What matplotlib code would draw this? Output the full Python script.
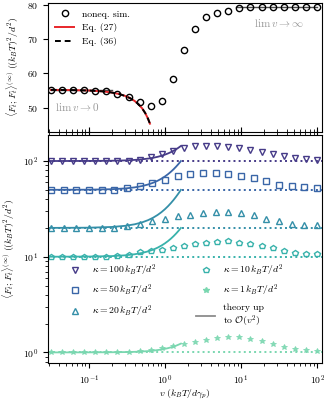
import numpy as np
import matplotlib
matplotlib.use("Agg")
import matplotlib.pyplot as plt
from matplotlib.lines import Line2D

plt.rcParams['font.family'] = 'serif'
plt.rcParams['font.serif'] = ['cmr10', 'DejaVu Serif']
plt.rcParams['mathtext.fontset'] = 'cm'
plt.rcParams['axes.formatter.use_mathtext'] = True
plt.rcParams['font.size'] = 7

# ------------------------------------------
# DATA
# ------------------------------------------
# driving velocities (two sampling grids used in the simulations)
v25 = [0.0316, 0.0442, 0.0619, 0.0866, 0.121, 0.169, 0.237, 0.332, 0.464,
       0.649, 0.909, 1.27, 1.78, 2.49, 3.48, 4.87, 6.81, 9.53, 13.3, 18.7,
       26.1, 36.5, 51.1, 71.5, 100.0]
v22 = [0.0316, 0.0464, 0.0681, 0.1, 0.147, 0.215, 0.316, 0.464, 0.681, 1.0,
       1.468, 2.154, 3.162, 4.64, 6.81, 10.0, 14.68, 21.54, 31.6, 46.4,
       68.1, 100.0]

# top panel: nonequilibrium simulation
sim_top = [55.2, 55.2, 55.2, 55.1, 55.0, 54.75, 54.0, 53.0, 51.65, 50.6,
           52.0, 58.3, 66.7, 72.8, 76.4, 77.7, 78.3, 79.1, 79.3, 79.3,
           79.3, 79.3, 79.3, 79.3, 79.3]
v_eq = [0.0316, 0.06, 0.1, 0.15, 0.2, 0.25, 0.3, 0.35, 0.4, 0.45, 0.5,
        0.55, 0.6, 0.635]
eq27 = [55.18, 55.13, 55.0, 54.76, 54.41, 53.97, 53.41, 52.74, 51.94,
        50.98, 49.83, 48.44, 46.74, 45.33]
eq36 = [55.18, 55.13, 55.0, 54.76, 54.41, 53.97, 53.41, 52.74, 51.94,
        50.98, 49.83, 48.44, 46.74, 45.33]
lim0_v, lim0 = [0.0316, 0.2], 55.2
liminf_v, liminf = [8.5, 100.0], 79.3

# bottom panel: per-stiffness simulations
kappas = [100, 50, 20, 10, 1]
sim_k100 = [100, 100, 100, 100, 100, 100, 100, 100.7, 103, 110, 118, 127,
            137, 142.6, 144.7, 144, 141, 137, 130, 124, 118, 113, 107.5,
            104, 102.4]
sim_k50 = [50, 50, 50, 50, 50, 50, 52, 54.5, 58.9, 64, 70, 73.5, 74.6, 74.3,
           72.3, 69.4, 66, 61.5, 56.8, 54.5, 53.2, 52.4]
sim_k20 = [20, 20, 20, 20, 20, 20, 20.7, 22.0, 23.4, 25.0, 26.4, 27.6, 28.9,
           29.1, 29.1, 28.6, 27.0, 25.0, 23.4, 22.1, 21.2, 21.2]
sim_k10 = [10, 10, 10, 10, 10, 10, 10.24, 10.5, 11.1, 11.5, 11.8, 12.3, 13.0,
           13.6, 13.9, 14.4, 14.5, 13.9, 13.7, 12.9, 12.2, 11.4, 10.9, 10.75,
           10.75]
sim_k1 = [1.0, 1.0, 1.0, 1.0, 1.0, 1.0, 1.0, 1.017, 1.032, 1.067, 1.12,
          1.175, 1.233, 1.288, 1.345, 1.408, 1.446, 1.446, 1.391, 1.304,
          1.213, 1.147, 1.093, 1.049, 1.037]

# theory up to O(v^2)
v_th = [0.0316, 0.1, 0.2, 0.3, 0.4, 0.5, 0.6, 0.7, 0.8, 0.9, 1.0, 1.1, 1.2,
        1.3, 1.4, 1.5, 1.62]
th_k100 = [100.02, 100.17, 100.66, 101.5, 102.7, 104.2, 106.0, 108.1, 110.6,
           113.4, 116.6, 120.1, 123.9, 128.1, 132.5, 137.4, 143.6]
th_k50 = [50.02, 50.19, 50.76, 51.71, 53.04, 54.75, 56.84, 59.31, 62.16,
          65.39, 69.0, 72.99, 77.36, 82.11, 87.24, 92.75, 99.86]
th_k20 = [20.01, 20.11, 20.46, 21.03, 21.82, 22.85, 24.10, 25.59, 27.30,
          29.23, 31.4, 33.79, 36.42, 39.27, 42.34, 45.65, 49.92]
th_k10 = [10.0, 10.04, 10.15, 10.34, 10.61, 10.95, 11.37, 11.86, 12.43,
          13.08, 13.8, 14.60, 15.47, 16.42, 17.45, 18.55, 19.97]
th_k1 = [1.0, 1.001, 1.004, 1.008, 1.014, 1.023, 1.032, 1.044, 1.058, 1.073,
         1.09, 1.109, 1.13, 1.152, 1.176, 1.203, 1.236]

series = [
    (100, v25, sim_k100, th_k100, 'v', '#463b88'),
    (50, v22, sim_k50, th_k50, 's', '#3a66a8'),
    (20, v22, sim_k20, th_k20, '^', '#348fa8'),
    (10, v25, sim_k10, th_k10, 'p', '#38b2ab'),
    (1, v25, sim_k1, th_k1, '*', '#7ad7b0'),
]

# ------------------------------------------
# FIGURE
# ------------------------------------------
fig = plt.figure(figsize=(3.28, 4.0), dpi=100)
ax1 = fig.add_axes([0.1463, 0.6708, 0.8354, 0.3217])
ax2 = fig.add_axes([0.1463, 0.0918, 0.8354, 0.5707])

xlim = (0.029, 116)
ylab = r'$\langle F_t; F_t\rangle^{(\infty)}\ ((k_BT)^2/d^2)$'

# top panel
ax1.plot(lim0_v, [lim0, lim0], color='0.3', lw=1.0)
ax1.plot(liminf_v, [liminf, liminf], color='0.3', lw=1.0)
ax1.plot(v_eq, eq27, color='#e8262a', lw=1.4, label='Eq. (27)')
ax1.plot(v_eq, eq36, color='k', lw=1.4, ls=(0, (3, 2)), label='Eq. (36)')
ax1.plot(v25, sim_top, 'o', mfc='none', mec='k', ms=4.5, mew=1.0,
         label='noneq. sim.')
ax1.set_xscale('log')
ax1.set_xlim(*xlim)
ax1.set_ylim(43, 80.5)
ax1.set_yticks([50, 60, 70, 80])
ax1.tick_params(axis='x', which='both', direction='in', labelbottom=False)
ax1.tick_params(axis='y', direction='out')
ax1.set_ylabel(ylab, labelpad=4)
ax1.text(0.025, 0.19, r'$\lim\, v \to 0$', transform=ax1.transAxes,
         color='0.6', ha='left', va='center', fontsize=8)
ax1.text(0.935, 0.845, r'$\lim\, v \to \infty$', transform=ax1.transAxes,
         color='0.6', ha='right', va='center', fontsize=8)
h, l = ax1.get_legend_handles_labels()
ax1.legend([h[2], h[0], h[1]], [l[2], l[0], l[1]], loc='upper left',
           frameon=False, handlelength=2.0, borderaxespad=0.3,
           bbox_to_anchor=(0.0, 1.0))

# bottom panel
handles = []
labels = []
for kappa, vv, sim, th, mk, col in series:
    ax2.axhline(kappa, color=col, ls=':', lw=1.4)
    ax2.plot(v_th, th, color=col, lw=1.3)
    if mk == '*':
        ax2.plot(vv, sim, mk, color=col, ms=4.0, mew=0.6, alpha=0.9)
        hnd = Line2D([], [], marker=mk, ls='none', color=col, ms=4.0)
    else:
        ax2.plot(vv, sim, mk, mfc='none', mec=col, ms=4.0, mew=1.0)
        hnd = Line2D([], [], marker=mk, ls='none', mfc='none', mec=col,
                     ms=4.0, mew=1.0)
    handles.append(hnd)
    labels.append(r'$\kappa = %d\,k_BT/d^2$' % kappa)
handles.append(Line2D([], [], color='0.55', lw=1.3))
labels.append('theory up\nto ' + r'$\mathcal{O}(v^2)$')

ax2.set_xscale('log')
ax2.set_yscale('log')
ax2.set_xlim(*xlim)
ax2.set_ylim(0.77, 187)
ax2.tick_params(axis='x', which='both', direction='out')
ax2.tick_params(axis='x', which='both', top=True)
ax2.tick_params(axis='y', which='both', direction='out')
ax2.set_xlabel(r'$v\ (k_BT/d\gamma_p)$', labelpad=1)
ax2.set_ylabel(ylab, labelpad=4)
ax2.legend(handles, labels, ncol=2, loc='lower left', frameon=False,
           bbox_to_anchor=(0.03, 0.11), columnspacing=4.0,
           handlelength=2.0, labelspacing=0.5)

plt.savefig("out.png", dpi=100)
